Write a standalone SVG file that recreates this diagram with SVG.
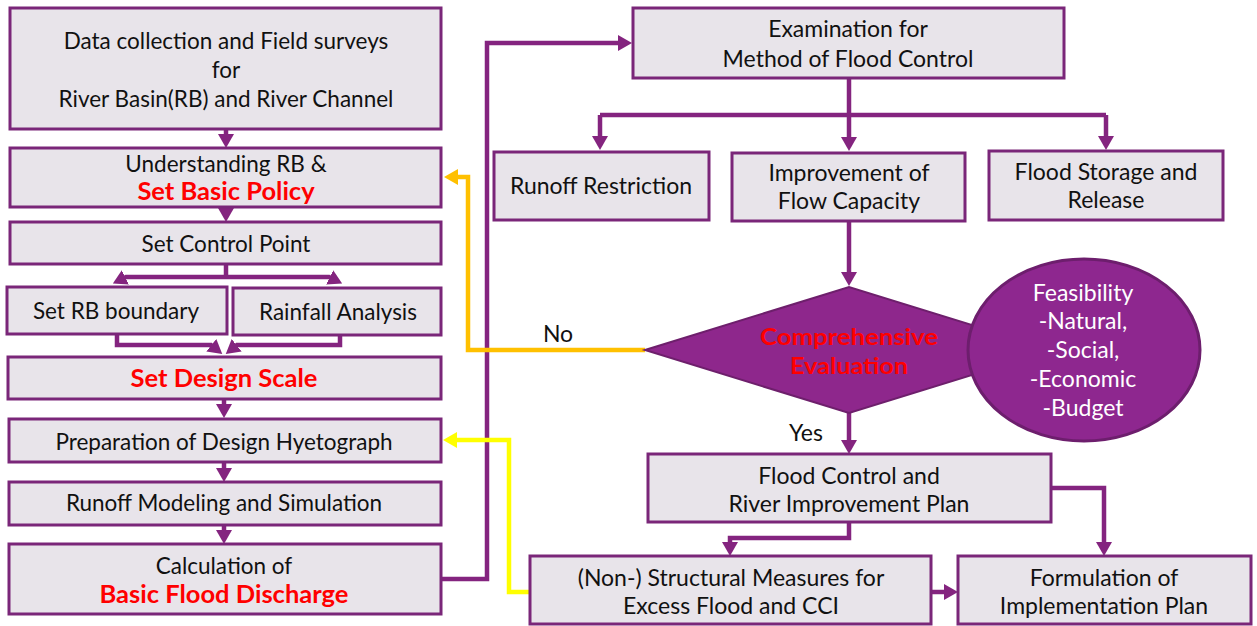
<svg xmlns="http://www.w3.org/2000/svg" width="1257" height="626" viewBox="0 0 1257 626">
  <style>
    .box { fill: #E8E4EA; stroke: #7A2679; stroke-width: 3; }
    .t { font-family: Lato, "Liberation Sans", sans-serif; font-size: 22.5px; fill: #111; text-anchor: middle; }
    .rt { font-size: 23px; }
    .r { font-weight: bold; fill: #FF0000; font-size: 25.5px; }
    .w { fill: #FFFFFF; font-size: 23px; }
    .c { fill: none; stroke: #84247F; stroke-width: 4.5; marker-end: url(#ah); }
    .cn { fill: none; stroke: #84247F; stroke-width: 4.5; }
    .co { fill: none; stroke: #FFC000; stroke-width: 4.5; marker-end: url(#ao); }
    .cy { fill: none; stroke: #FFFF00; stroke-width: 4.5; marker-end: url(#ay); }
  </style>
  <defs>
    <marker id="ah" viewBox="0 0 14 16" refX="6" refY="8" markerWidth="14" markerHeight="16" markerUnits="userSpaceOnUse" orient="auto">
      <path d="M0,0 L14,8 L0,16 z" fill="#84247F"/>
    </marker>
    <marker id="ao" viewBox="0 0 14 16" refX="6" refY="8" markerWidth="14" markerHeight="16" markerUnits="userSpaceOnUse" orient="auto">
      <path d="M0,0 L14,8 L0,16 z" fill="#FFC000"/>
    </marker>
    <marker id="ay" viewBox="0 0 14 16" refX="6" refY="8" markerWidth="14" markerHeight="16" markerUnits="userSpaceOnUse" orient="auto">
      <path d="M0,0 L14,8 L0,16 z" fill="#FFFF00"/>
    </marker>
  </defs>

  <!-- connectors -->
  <g id="connectors">
    <path class="c" d="M226,129 V140"/>
    <path class="c" d="M226,207 V214"/>
    <path class="cn" d="M226,264 V277"/>
    <path class="c" d="M226,277 H126 L120,280"/>
    <path class="c" d="M226,277 H329 L335,280"/>
    <path class="c" d="M117,335 V345 H211 L216,349"/>
    <path class="c" d="M340,335 V345 H237 L232,349"/>
    <path class="c" d="M224,399 V410"/>
    <path class="c" d="M224,462 V474"/>
    <path class="c" d="M224,525 V536"/>
    <path class="c" d="M441,579 H487 V43 H624"/>
    <path class="c" d="M849,78 V143"/>
    <path class="cn" d="M600,115 H1106"/>
    <path class="c" d="M600,115 V142"/>
    <path class="c" d="M1106,115 V142"/>
    <path class="c" d="M849,221 V278"/>
    <path class="c" d="M849,413 V446"/>
    <path class="c" d="M849,522 V538 H730 V548"/>
    <path class="c" d="M1051,488 H1104 V548"/>
    <path class="c" d="M931,592 H950"/>
    <path class="co" d="M645,350 H468 V177 H452"/>
    <path class="cy" d="M530,592 H509 V440 H451"/>
  </g>

  <!-- left column -->
  <g id="data-collection">
    <rect class="box" x="10" y="8" width="431" height="121"/>
    <text class="t" x="226" y="49">Data collection and Field surveys</text>
    <text class="t" x="226" y="78">for</text>
    <text class="t" x="226" y="107">River Basin(RB) and River Channel</text>
  </g>
  <g id="understanding-rb">
    <rect class="box" x="10" y="148" width="431" height="59"/>
    <text class="t" x="226" y="172">Understanding RB &amp;</text>
    <text class="t r" x="226" y="200">Set Basic Policy</text>
  </g>
  <g id="control-point">
    <rect class="box" x="10" y="222" width="431" height="42"/>
    <text class="t" x="226" y="252">Set Control Point</text>
  </g>
  <g id="rb-boundary">
    <rect class="box" x="7" y="287" width="220" height="47"/>
    <text class="t" x="116" y="319">Set RB boundary</text>
  </g>
  <g id="rainfall-analysis">
    <rect class="box" x="233" y="288" width="208" height="47"/>
    <text class="t" x="338" y="320">Rainfall Analysis</text>
  </g>
  <g id="design-scale">
    <rect class="box" x="8" y="357" width="433" height="42"/>
    <text class="t r" x="224" y="387">Set Design Scale</text>
  </g>
  <g id="design-hyetograph">
    <rect class="box" x="9" y="419" width="432" height="43"/>
    <text class="t" x="224" y="450">Preparation of Design Hyetograph</text>
  </g>
  <g id="runoff-modeling">
    <rect class="box" x="9" y="482" width="432" height="43"/>
    <text class="t" x="224" y="511">Runoff Modeling and Simulation</text>
  </g>
  <g id="basic-flood-discharge">
    <rect class="box" x="9" y="544" width="432" height="70"/>
    <text class="t" x="224" y="574">Calculation of</text>
    <text class="t r" x="224" y="603">Basic Flood Discharge</text>
  </g>

  <!-- right column -->
  <g id="examination">
    <rect class="box" x="633" y="8" width="431" height="70"/>
    <text class="t rt" x="848" y="37">Examination for</text>
    <text class="t rt" x="848" y="67">Method of Flood Control</text>
  </g>
  <g id="runoff-restriction">
    <rect class="box" x="494" y="152" width="215" height="68"/>
    <text class="t rt" x="601" y="194">Runoff Restriction</text>
  </g>
  <g id="flow-capacity">
    <rect class="box" x="732" y="153" width="233" height="68"/>
    <text class="t rt" x="849" y="181">Improvement of</text>
    <text class="t rt" x="849" y="209">Flow Capacity</text>
  </g>
  <g id="flood-storage">
    <rect class="box" x="989" y="151" width="234" height="69"/>
    <text class="t rt" x="1106" y="180">Flood Storage and</text>
    <text class="t rt" x="1106" y="208">Release</text>
  </g>
  <g id="evaluation">
    <polygon points="645,350 849,287 1053,350 849,413" fill="#8E278C" stroke="#6E1F6C" stroke-width="2"/>
    <text class="t r" x="849" y="345" style="font-size:23.5px" textLength="178" lengthAdjust="spacingAndGlyphs">Comprehensive</text>
    <text class="t r" x="849" y="374" style="font-size:23.5px" textLength="118" lengthAdjust="spacingAndGlyphs">Evaluation</text>
  </g>
  <g id="feasibility">
    <ellipse cx="1084" cy="350" rx="116" ry="91" fill="#8E278F" stroke="#6D1E6D" stroke-width="3"/>
    <text class="t w" x="1083" y="301">Feasibility</text>
    <text class="t w" x="1083" y="329">-Natural,</text>
    <text class="t w" x="1083" y="358">-Social,</text>
    <text class="t w" x="1083" y="387">-Economic</text>
    <text class="t w" x="1083" y="416">-Budget</text>
  </g>
  <g id="labels">
    <text class="t rt" x="558" y="342">No</text>
    <text class="t rt" x="806" y="441">Yes</text>
  </g>
  <g id="river-improvement-plan">
    <rect class="box" x="648" y="454" width="403" height="68"/>
    <text class="t rt" x="849" y="484">Flood Control and</text>
    <text class="t rt" x="849" y="512">River Improvement Plan</text>
  </g>
  <g id="structural-measures">
    <rect class="box" x="530" y="556" width="401" height="68"/>
    <text class="t rt" x="731" y="586">(Non-) Structural Measures for</text>
    <text class="t rt" x="731" y="614">Excess Flood and CCI</text>
  </g>
  <g id="implementation-plan">
    <rect class="box" x="958" y="556" width="293" height="68"/>
    <text class="t rt" x="1104" y="586">Formulation of</text>
    <text class="t rt" x="1104" y="614">Implementation Plan</text>
  </g>
</svg>
